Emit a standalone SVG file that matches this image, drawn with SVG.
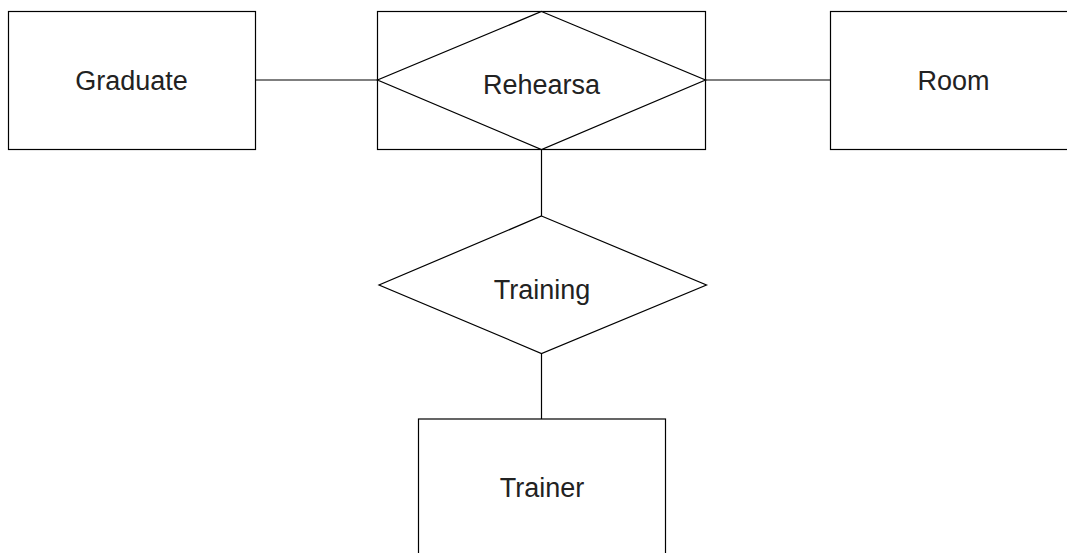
<svg xmlns="http://www.w3.org/2000/svg" width="1067" height="553" viewBox="0 0 1067 553">
<style>
.shape{fill:#fff;stroke:#000;stroke-width:1.2}
.conn{fill:none;stroke:#000;stroke-width:1.2}
.lbl{font-family:"Liberation Sans",Arial,sans-serif;font-size:27px;fill:#222;text-anchor:middle}
</style>
<rect width="1067" height="553" fill="#fff"/>
<g id="connectors">
<line class="conn" x1="255.5" y1="80" x2="378" y2="80"/>
<line class="conn" x1="705.5" y1="80" x2="830" y2="80"/>
<line class="conn" x1="541.5" y1="149" x2="541.5" y2="216"/>
<line class="conn" x1="541.5" y1="353.5" x2="541.5" y2="419"/>
</g>
<g id="graduate">
<rect class="shape" x="8.5" y="11.5" width="247" height="138"/>
<text class="lbl" x="131.5" y="90">Graduate</text>
</g>
<g id="rehearsa">
<rect class="shape" x="377.5" y="11.5" width="328" height="138"/>
<polygon class="shape" points="541.5,11.5 705.5,80 541.5,149.5 377.5,80"/>
<text class="lbl" x="541.5" y="94">Rehearsa</text>
</g>
<g id="room">
<rect class="shape" x="830.5" y="11.5" width="247" height="138"/>
<text class="lbl" x="953.5" y="89.5">Room</text>
</g>
<g id="training">
<polygon class="shape" points="541.5,216 706.5,285 541.5,353.5 379,285"/>
<text class="lbl" x="542" y="298.5">Training</text>
</g>
<g id="trainer">
<rect class="shape" x="418.5" y="419" width="247" height="138"/>
<text class="lbl" x="542" y="497">Trainer</text>
</g>
</svg>
